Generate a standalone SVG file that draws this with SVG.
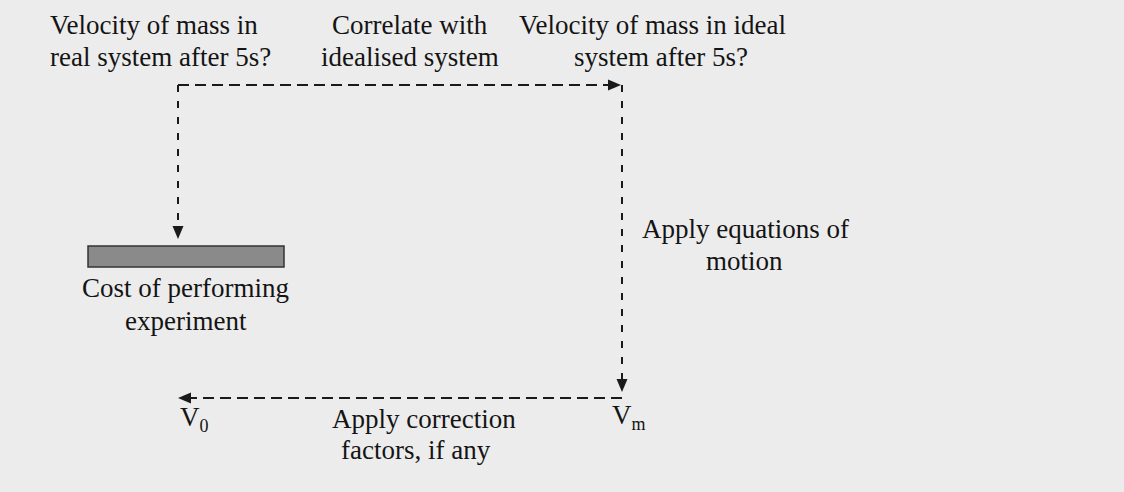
<svg xmlns="http://www.w3.org/2000/svg" width="1124" height="492" viewBox="0 0 1124 492">
  <style>
    .t { font-family: "Liberation Serif", "Times New Roman", serif; font-size: 27px; fill: #141414; }
    .sub { font-family: "Liberation Serif", "Times New Roman", serif; font-size: 18px; fill: #141414; }
    .h { fill: none; stroke: #1a1a1a; stroke-width: 2; stroke-dasharray: 11 6; }
    .v { fill: none; stroke: #1a1a1a; stroke-width: 2; stroke-dasharray: 7 9; }
  </style>
  <defs>
    <marker id="arr" markerUnits="userSpaceOnUse" markerWidth="14" markerHeight="14" viewBox="0 0 14 14" refX="1" refY="7" orient="auto">
      <path d="M0,1.5 L13,7 L0,12.5 Z" fill="#1a1a1a"/>
    </marker>
  </defs>
  <rect x="0" y="0" width="1124" height="492" fill="#ececec"/>

  <g id="connectors">
    <path class="h" d="M178,85 H609" marker-end="url(#arr)"/>
    <path class="v" d="M178,85 V227" marker-end="url(#arr)"/>
    <path class="v" d="M622,85 V380" marker-end="url(#arr)"/>
    <path class="h" d="M622,398 H190" marker-end="url(#arr)"/>
  </g>

  <g id="real-velocity">
    <text class="t" x="50" y="34">Velocity of mass in</text>
    <text class="t" x="50" y="66">real system after 5s?</text>
  </g>
  <g id="correlate">
    <text class="t" x="332" y="34">Correlate with</text>
    <text class="t" x="321" y="66">idealised system</text>
  </g>
  <g id="ideal-velocity">
    <text class="t" x="519" y="34">Velocity of mass in ideal</text>
    <text class="t" x="574" y="66">system after 5s?</text>
  </g>
  <g id="cost">
    <rect x="88" y="246" width="196" height="21" fill="#8a8a8a" stroke="#333333" stroke-width="1.5"/>
    <text class="t" x="82" y="297">Cost of performing</text>
    <text class="t" x="125" y="330">experiment</text>
  </g>
  <g id="equations">
    <text class="t" x="642" y="238">Apply equations of</text>
    <text class="t" x="706" y="270">motion</text>
  </g>
  <g id="v0">
    <text class="t" x="180" y="426">V<tspan class="sub" dy="6">0</tspan></text>
  </g>
  <g id="correction">
    <text class="t" x="332" y="428">Apply correction</text>
    <text class="t" x="341" y="459">factors, if any</text>
  </g>
  <g id="vm">
    <text class="t" x="612" y="424">V<tspan class="sub" dy="6">m</tspan></text>
  </g>
</svg>
